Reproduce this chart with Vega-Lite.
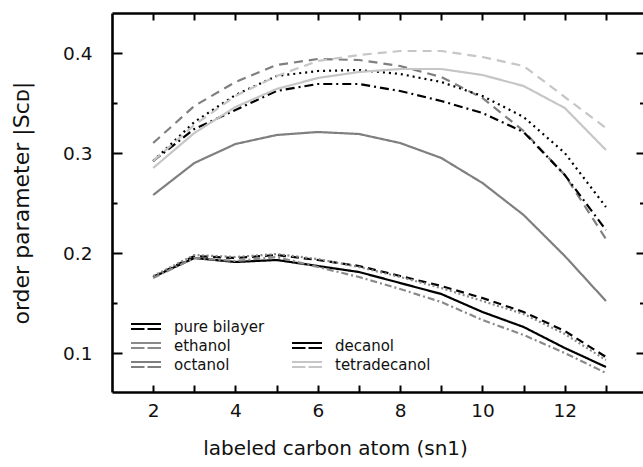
{
  "$schema": "https://vega.github.io/schema/vega-lite/v6.json",
  "width": 531,
  "height": 379,
  "autosize": {"type": "none"},
  "padding": {"left": 112, "top": 13, "right": 0, "bottom": 75},
  "background": "white",
  "config": {
    "view": {"stroke": null},
    "font": "DejaVu Sans",
    "axis": {
      "domainColor": "black", "domainWidth": 2.6, "tickColor": "black", "tickWidth": 2,
      "grid": false, "labelFont": "DejaVu Sans", "titleFont": "DejaVu Sans",
      "labelColor": "#111", "titleColor": "#111", "titleFontWeight": "normal",
      "labelFontSize": 18.5, "titleFontSize": 20
    }
  },
  "data": {"values": [
    {"substance":"pure bilayer","series":"pure bilayer 1","carbon":2,"S":0.176},
    {"substance":"pure bilayer","series":"pure bilayer 1","carbon":3,"S":0.195},
    {"substance":"pure bilayer","series":"pure bilayer 1","carbon":4,"S":0.191},
    {"substance":"pure bilayer","series":"pure bilayer 1","carbon":5,"S":0.193},
    {"substance":"pure bilayer","series":"pure bilayer 1","carbon":6,"S":0.187},
    {"substance":"pure bilayer","series":"pure bilayer 1","carbon":7,"S":0.181},
    {"substance":"pure bilayer","series":"pure bilayer 1","carbon":8,"S":0.170},
    {"substance":"pure bilayer","series":"pure bilayer 1","carbon":9,"S":0.159},
    {"substance":"pure bilayer","series":"pure bilayer 1","carbon":10,"S":0.141},
    {"substance":"pure bilayer","series":"pure bilayer 1","carbon":11,"S":0.126},
    {"substance":"pure bilayer","series":"pure bilayer 1","carbon":12,"S":0.105},
    {"substance":"pure bilayer","series":"pure bilayer 1","carbon":13,"S":0.086},
    {"substance":"pure bilayer","series":"pure bilayer 2","carbon":2,"S":0.176},
    {"substance":"pure bilayer","series":"pure bilayer 2","carbon":3,"S":0.197},
    {"substance":"pure bilayer","series":"pure bilayer 2","carbon":4,"S":0.195},
    {"substance":"pure bilayer","series":"pure bilayer 2","carbon":5,"S":0.198},
    {"substance":"pure bilayer","series":"pure bilayer 2","carbon":6,"S":0.193},
    {"substance":"pure bilayer","series":"pure bilayer 2","carbon":7,"S":0.187},
    {"substance":"pure bilayer","series":"pure bilayer 2","carbon":8,"S":0.177},
    {"substance":"pure bilayer","series":"pure bilayer 2","carbon":9,"S":0.167},
    {"substance":"pure bilayer","series":"pure bilayer 2","carbon":10,"S":0.155},
    {"substance":"pure bilayer","series":"pure bilayer 2","carbon":11,"S":0.141},
    {"substance":"pure bilayer","series":"pure bilayer 2","carbon":12,"S":0.122},
    {"substance":"pure bilayer","series":"pure bilayer 2","carbon":13,"S":0.096},
    {"substance":"ethanol","series":"ethanol 1","carbon":2,"S":0.177},
    {"substance":"ethanol","series":"ethanol 1","carbon":3,"S":0.198},
    {"substance":"ethanol","series":"ethanol 1","carbon":4,"S":0.196},
    {"substance":"ethanol","series":"ethanol 1","carbon":5,"S":0.199},
    {"substance":"ethanol","series":"ethanol 1","carbon":6,"S":0.194},
    {"substance":"ethanol","series":"ethanol 1","carbon":7,"S":0.186},
    {"substance":"ethanol","series":"ethanol 1","carbon":8,"S":0.176},
    {"substance":"ethanol","series":"ethanol 1","carbon":9,"S":0.165},
    {"substance":"ethanol","series":"ethanol 1","carbon":10,"S":0.152},
    {"substance":"ethanol","series":"ethanol 1","carbon":11,"S":0.139},
    {"substance":"ethanol","series":"ethanol 1","carbon":12,"S":0.119},
    {"substance":"ethanol","series":"ethanol 1","carbon":13,"S":0.093},
    {"substance":"ethanol","series":"ethanol 2","carbon":2,"S":0.175},
    {"substance":"ethanol","series":"ethanol 2","carbon":3,"S":0.195},
    {"substance":"ethanol","series":"ethanol 2","carbon":4,"S":0.192},
    {"substance":"ethanol","series":"ethanol 2","carbon":5,"S":0.196},
    {"substance":"ethanol","series":"ethanol 2","carbon":6,"S":0.186},
    {"substance":"ethanol","series":"ethanol 2","carbon":7,"S":0.176},
    {"substance":"ethanol","series":"ethanol 2","carbon":8,"S":0.164},
    {"substance":"ethanol","series":"ethanol 2","carbon":9,"S":0.151},
    {"substance":"ethanol","series":"ethanol 2","carbon":10,"S":0.133},
    {"substance":"ethanol","series":"ethanol 2","carbon":11,"S":0.118},
    {"substance":"ethanol","series":"ethanol 2","carbon":12,"S":0.100},
    {"substance":"ethanol","series":"ethanol 2","carbon":13,"S":0.080},
    {"substance":"octanol","series":"octanol 1","carbon":2,"S":0.258},
    {"substance":"octanol","series":"octanol 1","carbon":3,"S":0.290},
    {"substance":"octanol","series":"octanol 1","carbon":4,"S":0.309},
    {"substance":"octanol","series":"octanol 1","carbon":5,"S":0.318},
    {"substance":"octanol","series":"octanol 1","carbon":6,"S":0.321},
    {"substance":"octanol","series":"octanol 1","carbon":7,"S":0.319},
    {"substance":"octanol","series":"octanol 1","carbon":8,"S":0.310},
    {"substance":"octanol","series":"octanol 1","carbon":9,"S":0.295},
    {"substance":"octanol","series":"octanol 1","carbon":10,"S":0.270},
    {"substance":"octanol","series":"octanol 1","carbon":11,"S":0.238},
    {"substance":"octanol","series":"octanol 1","carbon":12,"S":0.197},
    {"substance":"octanol","series":"octanol 1","carbon":13,"S":0.152},
    {"substance":"octanol","series":"octanol 2","carbon":2,"S":0.310},
    {"substance":"octanol","series":"octanol 2","carbon":3,"S":0.347},
    {"substance":"octanol","series":"octanol 2","carbon":4,"S":0.371},
    {"substance":"octanol","series":"octanol 2","carbon":5,"S":0.388},
    {"substance":"octanol","series":"octanol 2","carbon":6,"S":0.394},
    {"substance":"octanol","series":"octanol 2","carbon":7,"S":0.393},
    {"substance":"octanol","series":"octanol 2","carbon":8,"S":0.387},
    {"substance":"octanol","series":"octanol 2","carbon":9,"S":0.376},
    {"substance":"octanol","series":"octanol 2","carbon":10,"S":0.355},
    {"substance":"octanol","series":"octanol 2","carbon":11,"S":0.322},
    {"substance":"octanol","series":"octanol 2","carbon":12,"S":0.278},
    {"substance":"octanol","series":"octanol 2","carbon":13,"S":0.214},
    {"substance":"decanol","series":"decanol 1","carbon":2,"S":0.292},
    {"substance":"decanol","series":"decanol 1","carbon":3,"S":0.331},
    {"substance":"decanol","series":"decanol 1","carbon":4,"S":0.358},
    {"substance":"decanol","series":"decanol 1","carbon":5,"S":0.377},
    {"substance":"decanol","series":"decanol 1","carbon":6,"S":0.382},
    {"substance":"decanol","series":"decanol 1","carbon":7,"S":0.383},
    {"substance":"decanol","series":"decanol 1","carbon":8,"S":0.379},
    {"substance":"decanol","series":"decanol 1","carbon":9,"S":0.371},
    {"substance":"decanol","series":"decanol 1","carbon":10,"S":0.357},
    {"substance":"decanol","series":"decanol 1","carbon":11,"S":0.336},
    {"substance":"decanol","series":"decanol 1","carbon":12,"S":0.300},
    {"substance":"decanol","series":"decanol 1","carbon":13,"S":0.246},
    {"substance":"decanol","series":"decanol 2","carbon":2,"S":0.292},
    {"substance":"decanol","series":"decanol 2","carbon":3,"S":0.324},
    {"substance":"decanol","series":"decanol 2","carbon":4,"S":0.343},
    {"substance":"decanol","series":"decanol 2","carbon":5,"S":0.362},
    {"substance":"decanol","series":"decanol 2","carbon":6,"S":0.369},
    {"substance":"decanol","series":"decanol 2","carbon":7,"S":0.369},
    {"substance":"decanol","series":"decanol 2","carbon":8,"S":0.362},
    {"substance":"decanol","series":"decanol 2","carbon":9,"S":0.352},
    {"substance":"decanol","series":"decanol 2","carbon":10,"S":0.340},
    {"substance":"decanol","series":"decanol 2","carbon":11,"S":0.321},
    {"substance":"decanol","series":"decanol 2","carbon":12,"S":0.278},
    {"substance":"decanol","series":"decanol 2","carbon":13,"S":0.223},
    {"substance":"tetradecanol","series":"tetradecanol 1","carbon":2,"S":0.285},
    {"substance":"tetradecanol","series":"tetradecanol 1","carbon":3,"S":0.320},
    {"substance":"tetradecanol","series":"tetradecanol 1","carbon":4,"S":0.346},
    {"substance":"tetradecanol","series":"tetradecanol 1","carbon":5,"S":0.364},
    {"substance":"tetradecanol","series":"tetradecanol 1","carbon":6,"S":0.375},
    {"substance":"tetradecanol","series":"tetradecanol 1","carbon":7,"S":0.381},
    {"substance":"tetradecanol","series":"tetradecanol 1","carbon":8,"S":0.384},
    {"substance":"tetradecanol","series":"tetradecanol 1","carbon":9,"S":0.384},
    {"substance":"tetradecanol","series":"tetradecanol 1","carbon":10,"S":0.378},
    {"substance":"tetradecanol","series":"tetradecanol 1","carbon":11,"S":0.367},
    {"substance":"tetradecanol","series":"tetradecanol 1","carbon":12,"S":0.345},
    {"substance":"tetradecanol","series":"tetradecanol 1","carbon":13,"S":0.303},
    {"substance":"tetradecanol","series":"tetradecanol 2","carbon":2,"S":0.292},
    {"substance":"tetradecanol","series":"tetradecanol 2","carbon":3,"S":0.328},
    {"substance":"tetradecanol","series":"tetradecanol 2","carbon":4,"S":0.357},
    {"substance":"tetradecanol","series":"tetradecanol 2","carbon":5,"S":0.377},
    {"substance":"tetradecanol","series":"tetradecanol 2","carbon":6,"S":0.392},
    {"substance":"tetradecanol","series":"tetradecanol 2","carbon":7,"S":0.398},
    {"substance":"tetradecanol","series":"tetradecanol 2","carbon":8,"S":0.402},
    {"substance":"tetradecanol","series":"tetradecanol 2","carbon":9,"S":0.402},
    {"substance":"tetradecanol","series":"tetradecanol 2","carbon":10,"S":0.396},
    {"substance":"tetradecanol","series":"tetradecanol 2","carbon":11,"S":0.387},
    {"substance":"tetradecanol","series":"tetradecanol 2","carbon":12,"S":0.356},
    {"substance":"tetradecanol","series":"tetradecanol 2","carbon":13,"S":0.325}
  ]},
  "resolve": {"axis": {"x": "independent", "y": "independent"}},
  "layer": [
    {
      "mark": {"type": "line", "strokeWidth": 2.2, "strokeCap": "butt"},
      "encoding": {
        "x": {"field": "carbon", "type": "quantitative",
          "scale": {"domain": [1, 13.9], "nice": false, "zero": false},
          "axis": {"orient": "bottom", "values": [2,3,4,5,6,7,8,9,10,11,12,13], "tickSize": -7,
            "labelExpr": "datum.value % 2 === 0 ? datum.label : ''", "labelPadding": 16,
            "title": "labeled carbon atom (sn1)", "titlePadding": 19, "titleX": 223}},
        "y": {"field": "S", "type": "quantitative",
          "scale": {"domain": [0.061, 0.44], "nice": false, "zero": false},
          "axis": {"orient": "left", "values": [0.1, 0.15, 0.2, 0.25, 0.3, 0.35, 0.4],
            "tickSize": {"condition": {"test": "round(datum.value * 100) % 10 === 0", "value": -10}, "value": -5},
            "labelExpr": "round(datum.value * 100) % 10 === 0 ? format(datum.value, '.1f') : ''",
            "labelPadding": 30, "title": "order parameter |Sᴄᴅ|", "titleFontSize": 22, "titlePadding": 29}},
        "color": {"field": "substance", "type": "nominal",
          "scale": {"domain": ["pure bilayer", "ethanol", "octanol", " ", "decanol", "tetradecanol"],
            "range": ["#000000", "#8a8a8a", "#7f7f7f", "rgba(0,0,0,0)", "#000000", "#c6c6c6"]},
          "legend": {"title": null, "orient": "bottom-left", "offset": 16, "columns": 2,
            "symbolType": "M-1,-0.16H1M-1,0.16H-0.1M0.1,0.16H1", "symbolSize": 900,
            "symbolStrokeWidth": 2, "labelFontSize": 15, "labelFont": "DejaVu Sans", "labelColor": "#111",
            "clipHeight": 19, "rowPadding": 0, "columnPadding": 26, "labelOffset": 12, "padding": 2}},
        "strokeDash": {"field": "series", "type": "nominal",
          "scale": {"domain": ["pure bilayer 1","pure bilayer 2","ethanol 1","ethanol 2","octanol 1","octanol 2","decanol 1","decanol 2","tetradecanol 1","tetradecanol 2"],
            "range": [[1,0],[8,5],[2,2.5],[7,3,2,3],[1,0],[9,6],[2,4],[9,4,2,4],[1,0],[9,6]]},
          "legend": null}
      }
    },
    {
      "mark": {"type": "point", "opacity": 0},
      "encoding": {
        "x": {"field": "carbon", "type": "quantitative",
          "scale": {"domain": [1, 13.9], "nice": false, "zero": false},
          "axis": {"orient": "top", "values": [2,3,4,5,6,7,8,9,10,11,12,13], "tickSize": -7, "labels": false, "title": null}},
        "y": {"field": "S", "type": "quantitative",
          "scale": {"domain": [0.061, 0.44], "nice": false, "zero": false},
          "axis": {"orient": "right", "values": [0.1, 0.15, 0.2, 0.25, 0.3, 0.35, 0.4],
            "tickSize": {"condition": {"test": "round(datum.value * 100) % 10 === 0", "value": -7}, "value": -3.5},
            "labels": false, "domain": false, "title": null}}
      }
    }
  ]
}
